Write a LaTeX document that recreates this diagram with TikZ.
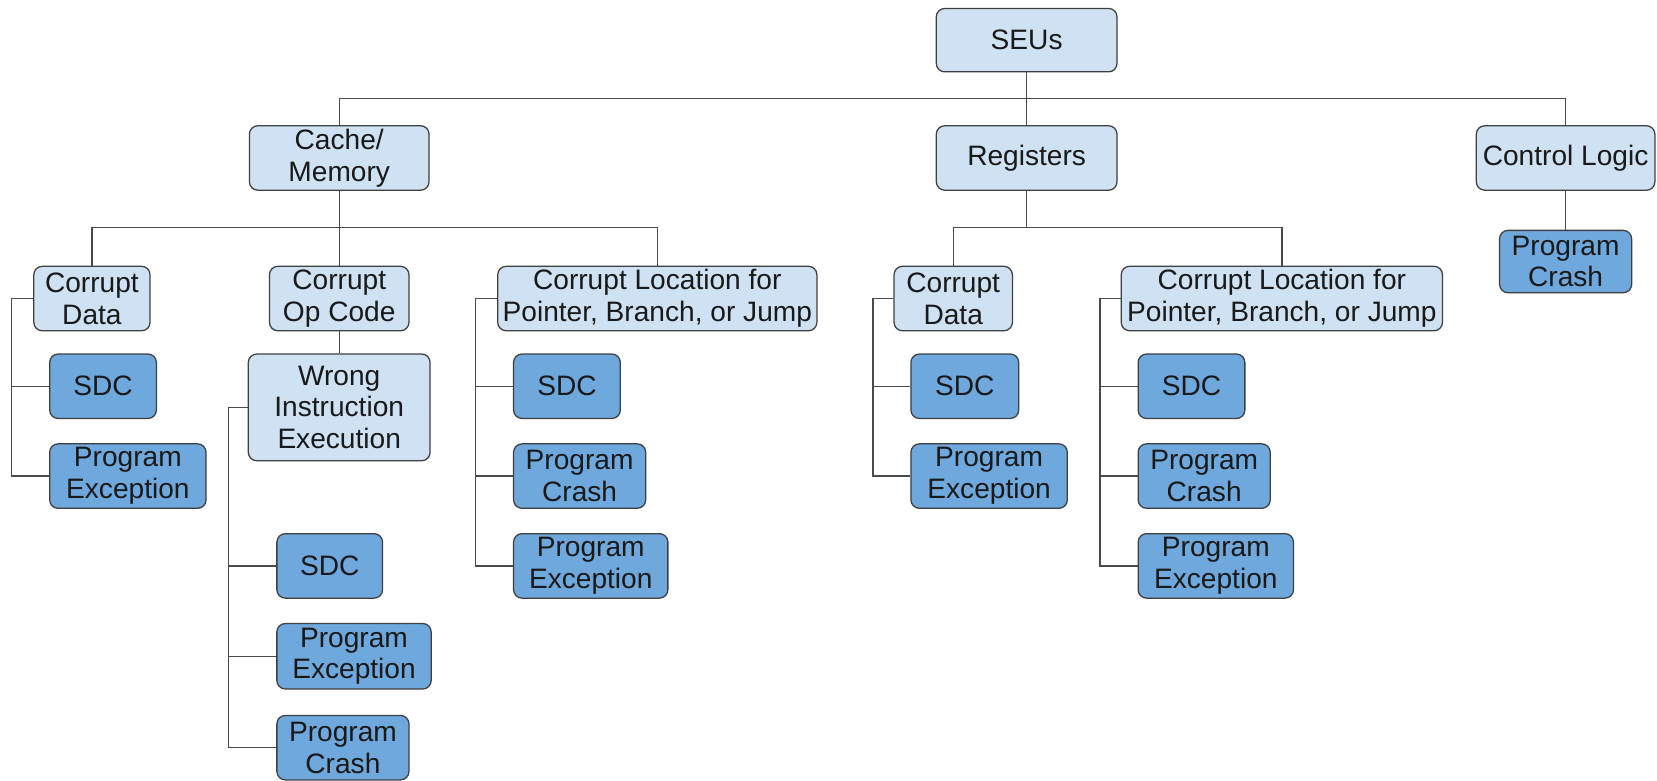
\documentclass[tikz,border=0pt]{standalone}
\usepackage{fontspec}
\setmainfont{Liberation Sans}
\definecolor{lightbox}{HTML}{CFE2F3}
\definecolor{darkbox}{HTML}{6FA8DC}
\definecolor{boxline}{HTML}{3F3F3F}
\definecolor{conn}{HTML}{4A4A4A}
\begin{document}
\begin{tikzpicture}[x=0.5pt,y=-0.5pt,
  box/.style={draw=boxline, line width=0.6pt, rounded corners=4pt, align=center, inner sep=0pt,
    font=\fontsize{13.3}{15}\selectfont, text=black!90},
  lbox/.style={box, fill=lightbox},
  dbox/.style={box, fill=darkbox},
  sz/.style 2 args={minimum width=#1*0.5pt, minimum height=#2*0.5pt},
  link/.style={draw=conn, line width=0.6pt}]
\useasboundingbox (0,0) rectangle (1568,739);
% level 0/1
\node[lbox, sz={171}{60}] (seu) at (971.5,38) {SEUs};
\node[lbox, sz={170}{61}] (cache) at (321,149.5) {Cache/\\Memory};
\node[lbox, sz={171}{61}] (reg) at (971.5,149.5) {Registers};
\node[lbox, sz={169}{61}] (ctrl) at (1481.5,149.5) {Control Logic};
\node[dbox, sz={125}{59}] (ctrlcr) at (1481.5,247.5) {Program\\Crash};
% level 2
\node[lbox, sz={110}{61}] (cdL) at (87,282.5) {Corrupt\\Data};
\node[lbox, sz={132}{61}] (cop) at (321,282.5) {Corrupt\\Op Code};
\node[lbox, sz={302}{61}] (clL) at (622,282.5) {Corrupt Location for\\Pointer, Branch, or Jump};
\node[lbox, sz={112}{61}] (cdR) at (902,282.5) {Corrupt\\Data};
\node[lbox, sz={304}{61}] (clR) at (1213,282.5) {Corrupt Location for\\Pointer, Branch, or Jump};
% leaves under left corrupt data
\node[dbox, sz={101}{61}] (sdcL1) at (97.5,365.5) {SDC};
\node[dbox, sz={148}{61}] (peL1) at (121,450.5) {Program\\Exception};
% wrong instruction
\node[lbox, sz={172}{101}] (wie) at (321,385.5) {Wrong\\Instruction\\Execution};
\node[dbox, sz={100}{61}] (sdcW) at (312,535.5) {SDC};
\node[dbox, sz={146}{62}] (peW) at (335,621) {Program\\Exception};
\node[dbox, sz={125}{61}] (crW) at (324.5,707.5) {Program\\Crash};
% left corrupt location
\node[dbox, sz={101}{61}] (sdcL3) at (536.5,365.5) {SDC};
\node[dbox, sz={125}{61}] (crL3) at (548.5,450.5) {Program\\Crash};
\node[dbox, sz={146}{61}] (peL3) at (559,535.5) {Program\\Exception};
% right corrupt data
\node[dbox, sz={102}{61}] (sdcR1) at (913,365.5) {SDC};
\node[dbox, sz={148}{61}] (peR1) at (936,450.5) {Program\\Exception};
% right corrupt location
\node[dbox, sz={101}{61}] (sdcR2) at (1127.5,365.5) {SDC};
\node[dbox, sz={125}{61}] (crR2) at (1139.5,450.5) {Program\\Crash};
\node[dbox, sz={147}{61}] (peR2) at (1150.5,535.5) {Program\\Exception};
% connectors
\coordinate (j1) at (971.5,93);
\coordinate (j2) at (321,215);
\coordinate (j3) at (971.5,215);
\draw[link] (seu) -- (reg);
\draw[link] (cache.north) |- (j1) -| (ctrl.north);
\draw[link] (cache) -- (cop);
\draw[link] (cdL.north) |- (j2) -| (clL.north);
\draw[link] (reg.south) -- (j3);
\draw[link] (cdR.north) |- (j3) -| (clR.north);
\draw[link] (ctrl) -- (ctrlcr);
\draw[link] (cop) -- (wie);
% brackets
\coordinate (b1) at (11,282.5);
\draw[link] (cdL.west) -- (b1) |- (peL1.west);
\draw[link] (b1 |- sdcL1.west) -- (sdcL1.west);
\coordinate (b2) at (216,385.5);
\draw[link] (wie.west) -- (b2) |- (crW.west);
\draw[link] (b2 |- sdcW.west) -- (sdcW.west);
\draw[link] (b2 |- peW.west) -- (peW.west);
\coordinate (b3) at (450,282.5);
\draw[link] (clL.west) -- (b3) |- (peL3.west);
\draw[link] (b3 |- sdcL3.west) -- (sdcL3.west);
\draw[link] (b3 |- crL3.west) -- (crL3.west);
\coordinate (b4) at (826,282.5);
\draw[link] (cdR.west) -- (b4) |- (peR1.west);
\draw[link] (b4 |- sdcR1.west) -- (sdcR1.west);
\coordinate (b5) at (1041,282.5);
\draw[link] (clR.west) -- (b5) |- (peR2.west);
\draw[link] (b5 |- sdcR2.west) -- (sdcR2.west);
\draw[link] (b5 |- crR2.west) -- (crR2.west);
\end{tikzpicture}
\end{document}
